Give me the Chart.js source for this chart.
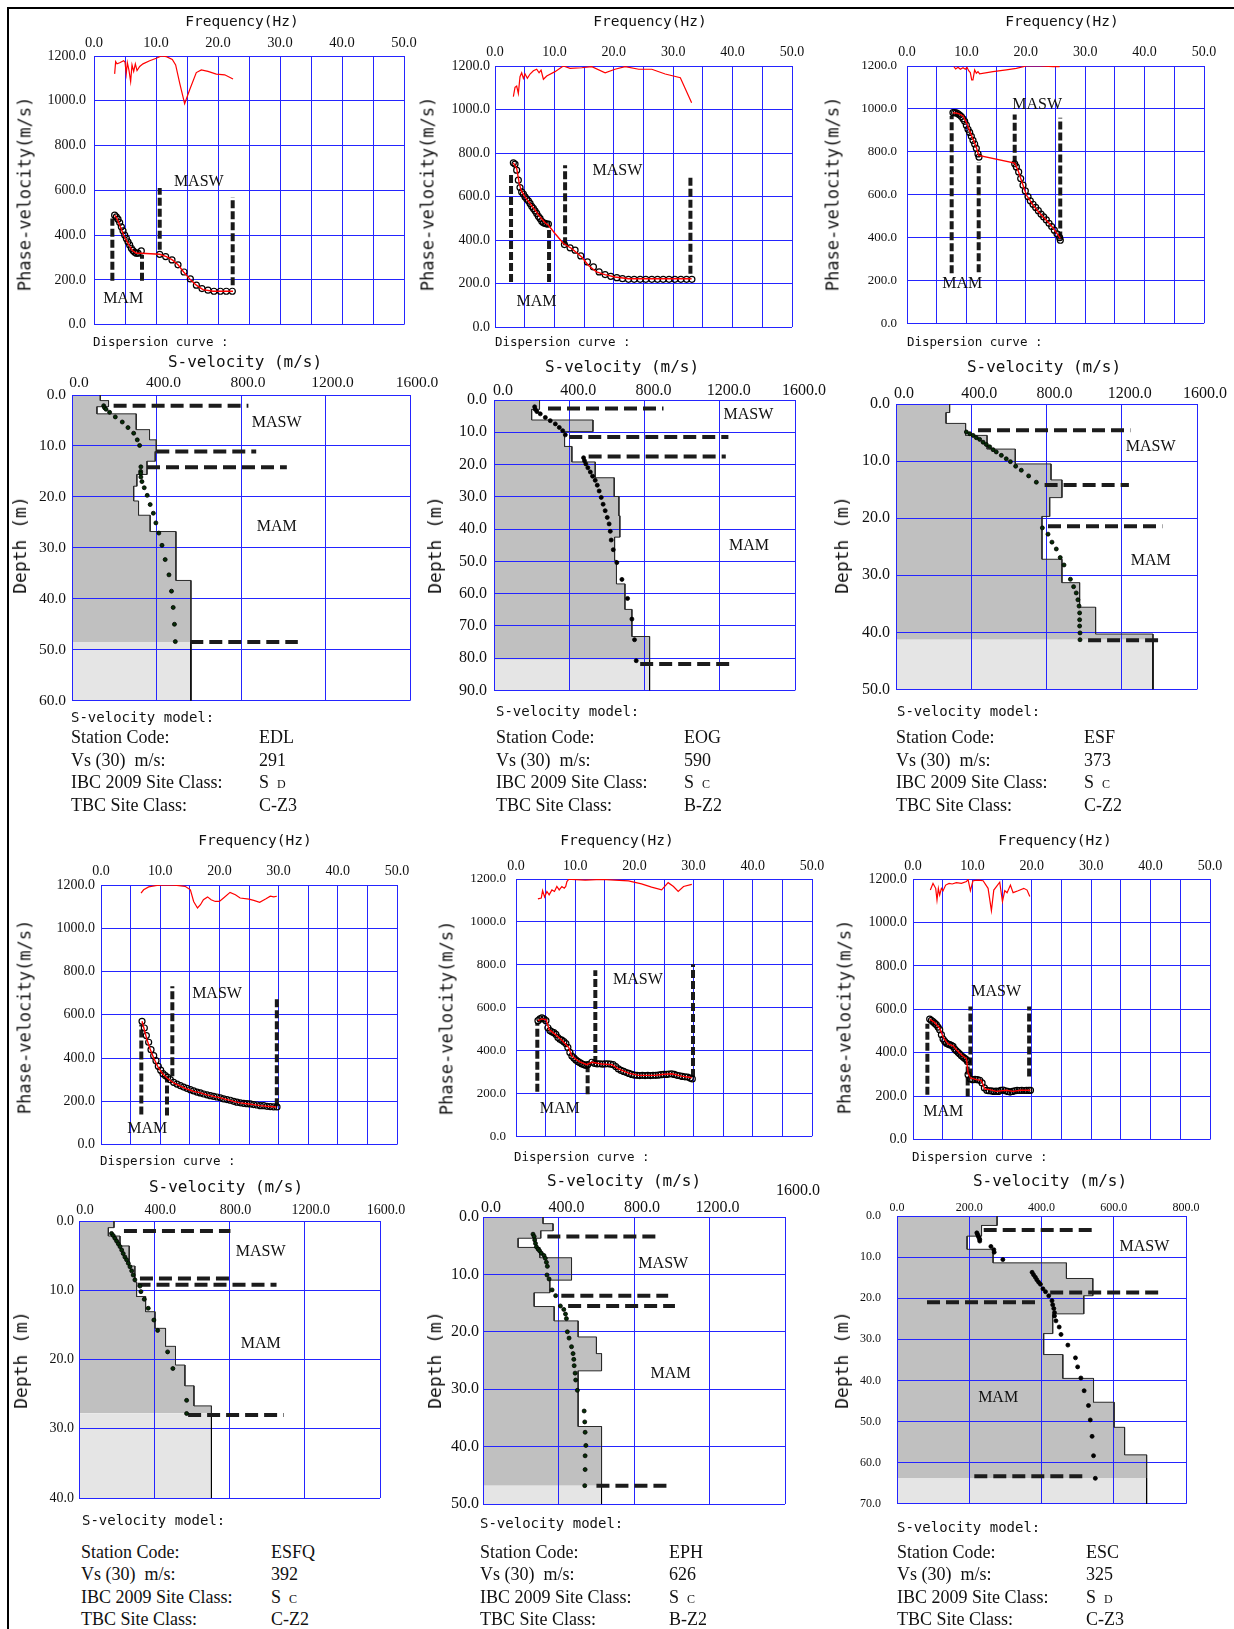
<!DOCTYPE html>
<html>
<head>
<meta charset="utf-8">
<title>Dispersion curves and S-velocity models</title>
<script src="https://cdn.jsdelivr.net/npm/chart.js@4.4.1/dist/chart.umd.min.js"></script>
<style>
  body { margin: 0; background: #fff; }
  #page { position: relative; width: 1234px; height: 1629px; overflow: hidden; background: #fff; }
  #page canvas { position: absolute; }
  .txt { position: absolute; white-space: pre; line-height: 1; color: #111; }
  .mono { font-family: "DejaVu Sans Mono", monospace; }
  .serif { font-family: "Liberation Serif", "Times New Roman", serif; }
  .frame { position: absolute; background: #000; }
</style>
</head>
<body>
<div id="page">
  <div class="frame" style="left:7px;top:7px;width:1.5px;height:1622px"></div>
  <div class="frame" style="left:7px;top:7px;width:1227px;height:1.5px"></div>
</div>
<script>
// ----- station summary ----- //
const STATION_CODES = ["EDL", "EOG", "ESF", "ESFQ", "EPH", "ESC"];
const VS30 = [291, 590, 373, 392, 626, 325];
const IBC_CLASS = ["D", "C", "C", "C", "C", "D"];
const TBC_CLASS = ["C-Z3", "B-Z2", "C-Z2", "C-Z2", "B-Z2", "C-Z3"];

// ----- dispersion curves: [frequency Hz, phase velocity m/s] ----- //
const edlTopCurve = [[3.33,1120],[3.49,1175],[3.71,1165],[4.14,1170],[4.78,1179],[5.0,1173],[5.2,1120],[5.38,1170],[5.65,1135],[5.91,1086],[6.13,1160],[6.4,1131],[6.67,1165],[6.94,1135],[7.37,1153],[7.9,1165],[8.98,1179],[10.05,1190],[10.86,1200],[11.67,1197],[12.63,1185],[13.17,1160],[13.82,1079],[14.62,987],[15.43,1049],[16.5,1126],[17.31,1138],[18.39,1131],[19.73,1119],[21.08,1116],[22.42,1097]];
const edlFitCurve = [[3.33,489],[3.71,474],[4.25,437],[4.78,400],[5.48,363],[6.18,331],[6.83,319],[7.63,319],[10.6,314],[11.67,304],[12.63,289],[13.55,267],[14.46,235],[15.54,201],[16.5,176],[17.58,156],[19.19,149],[22.42,149]];
const edlPicks = [[3.33,489],[3.6,481],[3.87,471],[4.14,456],[4.41,437],[4.68,419],[4.95,400],[5.22,385],[5.48,370],[5.75,356],[6.02,341],[6.29,331],[6.56,323],[6.83,319],[7.1,319],[7.63,329],[10.59,314],[11.56,304],[12.58,289],[13.55,267],[14.52,235],[15.54,204],[16.51,176],[17.42,161],[18.39,154],[19.35,149],[20.38,149],[21.34,149],[22.31,149]];
const edlRanges = [[2.96,196,474],[7.74,196,311],[10.6,334,610],[22.37,176,570]];

const eogTopCurve = [[3.09,1059],[3.37,1102],[3.65,1108],[3.93,1074],[4.21,1151],[4.49,1169],[4.78,1143],[5.06,1163],[5.45,1143],[5.9,1163],[6.46,1178],[7.02,1185],[7.42,1169],[7.75,1181],[8.15,1139],[8.71,1154],[10.1,1174],[11.5,1200],[12.64,1189],[14.6,1192],[16.3,1197],[18.54,1169],[20.2,1185],[21.9,1197],[24.2,1185],[26.4,1185],[28.65,1163],[31.2,1146],[33.1,1031]];
const eogFitCurve = [[3.09,755],[3.65,729],[4.04,667],[4.38,629],[5.06,598],[5.9,568],[6.74,537],[7.58,506],[8.43,479],[8.99,468],[10.1,430],[11.52,384],[12.9,361],[14.6,322],[15.7,284],[17.1,253],[18.5,241],[20.2,230],[22.5,222],[25.8,222],[33.1,222]];
const eogPicks = [[3.09,755],[3.37,749],[3.65,721],[3.93,675],[4.21,641],[4.49,621],[4.78,611],[5.06,598],[5.34,588],[5.62,580],[5.9,568],[6.18,555],[6.46,545],[6.74,534],[7.02,522],[7.3,509],[7.58,499],[7.87,486],[8.15,479],[8.43,476],[8.71,473],[8.99,473],[11.69,379],[12.64,364],[13.48,353],[14.44,327],[15.56,299],[16.57,276],[17.53,253],[18.54,241],[19.49,233],[20.51,227],[21.46,222],[22.47,219],[23.43,219],[24.44,219],[25.39,219],[26.4,219],[27.36,219],[28.31,219],[29.3,219],[30.28,219],[31.29,219],[32.25,219],[33.15,219]];
const eogRanges = [[2.7,207,706],[9.1,207,468],[11.8,376,744],[32.9,245,698]];

const esfTopCurve = [[7.91,1197],[8.19,1186],[8.59,1194],[8.98,1185],[9.43,1192],[9.82,1185],[10.1,1194],[10.38,1178],[10.66,1169],[10.89,1135],[11.1,1135],[11.39,1182],[11.67,1166],[11.95,1174],[12.23,1163],[14.48,1174],[16.72,1182],[18.4,1189],[20.1,1200],[22.3,1200],[24.6,1197],[25.7,1197]];
const esfFitCurve = [[7.74,982],[8.59,979],[9.43,967],[10.0,936],[10.55,898],[11.1,859],[11.67,821],[12.07,783],[18.13,747],[18.69,714],[19.25,667],[20.1,598],[21.2,552],[22.3,514],[23.5,479],[24.6,445],[25.8,396]];
const esfPicks = [[7.74,982],[8.02,982],[8.31,981],[8.59,977],[8.87,971],[9.15,964],[9.43,954],[9.71,942],[9.99,924],[10.27,905],[10.55,890],[10.83,872],[11.11,853],[11.39,836],[11.67,816],[11.95,790],[12.12,775],[18.13,744],[18.41,729],[18.8,706],[19.14,675],[19.53,644],[19.92,617],[20.37,591],[20.76,571],[21.21,555],[21.66,540],[22.11,525],[22.56,509],[23.01,496],[23.46,482],[23.91,466],[24.35,451],[24.8,434],[25.25,417],[25.7,399],[25.81,387]];
const esfRanges = [[7.52,233,967],[12.07,238,752],[18.13,744,974],[25.8,391,959]];

const esfqTopCurve = [[6.76,1163],[7.2,1178],[8.05,1191],[9.46,1198],[11.15,1200],[12.8,1198],[14.2,1194],[15.1,1178],[15.65,1124],[16.3,1094],[16.8,1109],[17.3,1132],[18.0,1145],[18.6,1132],[19.3,1124],[20.0,1124],[20.7,1140],[21.8,1166],[22.7,1155],[23.5,1140],[25.0,1135],[25.8,1129],[26.8,1120],[27.8,1135],[28.6,1148],[29.2,1145],[29.7,1148]];
const esfqFitCurve = [[6.93,570],[7.32,531],[7.77,485],[8.33,439],[8.9,400],[9.57,362],[10.3,331],[11.15,308],[12.27,285],[13.4,270],[14.5,257],[15.65,246],[16.8,239],[17.9,230],[19.0,223],[20.2,216],[21.3,208],[22.4,200],[23.5,193],[24.7,189],[25.8,185],[26.9,180],[28.0,177],[29.6,174]];
const esfqPicks = [[6.93,570],[7.32,539],[7.66,504],[8.05,473],[8.45,439],[8.9,411],[9.29,388],[9.68,362],[10.08,344],[10.47,328],[10.87,319],[11.26,311],[11.71,300],[12.27,288],[12.84,280],[13.4,273],[13.96,266],[14.53,260],[15.09,254],[15.65,248],[16.22,243],[16.78,239],[17.34,234],[17.91,230],[18.47,226],[19.03,223],[19.59,220],[20.16,216],[20.72,211],[21.28,208],[21.85,205],[22.41,200],[22.97,196],[23.54,193],[24.1,191],[24.66,189],[25.23,188],[25.79,185],[26.35,183],[26.91,180],[27.48,180],[28.04,177],[28.6,176],[29.17,174],[29.73,174]];
const esfqRanges = [[6.81,139,555],[11.15,134,316],[12.05,316,732],[29.7,177,678]];

const ephTopCurve = [[3.7,1107],[4.27,1111],[4.49,1146],[4.83,1116],[5.22,1142],[5.6,1126],[6.07,1149],[6.5,1142],[6.9,1165],[7.3,1149],[7.75,1165],[8.15,1157],[8.4,1165],[8.6,1188],[8.9,1198],[9.4,1198],[11.7,1195],[14.5,1198],[16.7,1195],[19.0,1191],[21.2,1177],[22.9,1162],[24.6,1149],[25.7,1183],[26.6,1165],[27.4,1142],[28.3,1165],[29.7,1175]];
const ephFitCurve = [[3.7,539],[4.38,547],[5.06,544],[5.6,498],[6.63,475],[7.75,448],[8.9,414],[9.4,375],[10.6,349],[11.97,334],[12.8,345],[14.5,337],[16.2,334],[17.3,314],[19.0,294],[20.7,284],[23.5,284],[24.6,288],[26.3,291],[28.0,280],[29.7,273]];
const ephPicks = [[3.71,539],[4.04,547],[4.38,552],[4.72,547],[5.06,539],[5.39,506],[5.73,493],[6.07,487],[6.4,483],[6.74,475],[7.08,460],[7.42,452],[7.75,448],[8.09,441],[8.43,432],[8.76,414],[9.1,391],[9.44,374],[9.78,365],[10.11,356],[10.45,349],[10.79,343],[11.12,337],[11.46,334],[11.8,330],[12.13,334],[12.81,345],[13.26,340],[13.71,337],[14.16,338],[14.61,336],[15.06,337],[15.51,338],[15.96,336],[16.4,334],[16.85,325],[17.3,314],[17.75,307],[18.2,302],[18.65,297],[19.1,293],[19.55,288],[20.0,285],[20.45,284],[20.9,283],[21.35,284],[21.8,283],[22.25,284],[22.7,283],[23.15,284],[23.6,284],[24.04,285],[24.49,287],[24.94,288],[25.39,288],[25.84,290],[26.29,291],[26.74,288],[27.19,284],[27.64,282],[28.09,279],[28.54,277],[28.99,276],[29.44,271],[29.78,267]];
const ephRanges = [[3.6,207,529],[12.1,196,330],[13.4,337,774],[29.9,276,802]];

const escTopCurve = [[2.92,1149],[3.37,1180],[3.82,1157],[4.04,1103],[4.27,1157],[4.49,1126],[4.78,1157],[5.06,1146],[5.5,1172],[6.07,1180],[6.6,1177],[7.3,1183],[8.15,1180],[9.0,1188],[9.27,1198],[9.66,1146],[10.1,1192],[10.96,1195],[11.8,1192],[12.64,1157],[13.2,1054],[13.6,1149],[14.04,1165],[14.6,1185],[15.06,1096],[15.45,1146],[15.84,1137],[16.4,1172],[16.85,1137],[17.7,1146],[18.65,1157],[19.2,1149],[19.66,1119]];
const escFitCurve = [[2.81,555],[3.65,539],[4.49,513],[5.17,467],[5.9,441],[6.74,432],[7.3,414],[8.15,391],[9.0,372],[9.27,307],[9.66,284],[10.67,276],[11.5,273],[12.08,233],[12.9,230],[14.04,222],[15.7,227],[16.85,222],[18.0,227],[19.8,227]];
const escPicks = [[2.81,555],[3.09,549],[3.37,543],[3.65,536],[3.93,529],[4.21,518],[4.49,506],[4.78,483],[5.06,463],[5.34,452],[5.62,444],[5.9,440],[6.18,437],[6.46,434],[6.74,429],[7.02,417],[7.3,409],[7.58,402],[7.87,394],[8.15,386],[8.43,380],[8.71,374],[8.99,368],[9.16,360],[9.27,299],[9.66,279],[10.06,276],[10.45,277],[10.84,276],[11.24,273],[11.63,261],[12.02,238],[12.42,227],[12.81,225],[13.2,224],[13.6,222],[13.99,223],[14.38,222],[14.78,227],[15.17,228],[15.56,225],[15.96,222],[16.35,219],[16.74,222],[17.13,225],[17.53,227],[17.92,226],[18.31,227],[18.71,226],[19.1,227],[19.49,227],[19.78,227]];
const escRanges = [[2.42,207,533],[9.21,199,360],[9.66,291,613],[19.55,291,613]];

// ----- S-velocity models: layer Vs (m/s), layer base depth (m) ----- //
const edlLayerVs = [134,173,118,304,367,399,394,355,307,292,315,370,492,563];
const edlLayerBase = [1.1,2.3,3.7,6.8,8.8,11.1,13.0,15.6,17.9,20.8,23.6,26.8,36.4,60];
const edlHalfspace = 48.5;
const edlModelDots = [[150,2.1],[154,2.5],[161,2.8],[178,3.4],[205,4.3],[238,5.3],[265,6.4],[292,7.5],[309,8.8],[320,9.9],[326,14.1],[325,15.0],[325,15.4],[326,16.1],[331,17.0],[342,18.2],[356,19.7],[370,21.5],[385,23.2],[397,25.1],[411,27.1],[426,29.5],[441,32.3],[459,35.3],[471,38.5],[479,41.7],[485,45.0],[489,48.4]];
const edlDepthRanges = [[2.1,197,835],[11.1,399,872],[14.2,355,1017],[48.5,560,1069]];

const eogLayerVs = [242,200,526,375,414,538,639,664,669,641,651,696,733,827];
const eogLayerBase = [2.9,6.2,9.8,14.4,19.2,24.1,29.9,35.9,42.5,49.7,57.0,64.9,73.3,90];
const eogHalfspace = 80.5;
const eogModelDots = [[216,2.1],[219,2.9],[228,3.6],[246,4.3],[273,5.4],[299,6.4],[326,7.4],[347,8.5],[365,9.5],[379,10.8],[476,17.9],[481,18.8],[488,19.8],[499,21.0],[512,22.3],[524,23.6],[538,24.9],[549,26.4],[559,28.2],[570,30.2],[580,32.3],[591,34.3],[602,36.4],[612,38.4],[618,40.7],[623,43.4],[634,46.4],[653,50.4],[680,55.6],[710,61.5],[733,67.9],[747,74.3],[756,80.8]];
const eogDepthRanges = [[2.6,287,901],[11.5,400,1246],[17.5,503,1232],[81.8,777,1273]];

const esfLayerVs = [285,266,370,484,634,824,882,817,776,882,976,1061,1366];
const esfLayerBase = [1.5,3.4,5.5,7.9,10.5,13.3,16.4,19.7,27.2,31.3,35.6,40.3,50];
const esfHalfspace = 41.3;
const esfModelDots = [[374,4.9],[392,5.2],[410,5.5],[427,5.9],[445,6.2],[463,6.7],[480,7.1],[498,7.5],[516,8.0],[533,8.4],[560,9.0],[586,9.6],[608,10.1],[636,10.9],[666,11.6],[705,12.6],[746,13.7],[778,21.7],[808,22.8],[829,24.2],[852,25.4],[873,26.9],[893,28.2],[927,30.7],[944,32.0],[958,33.1],[967,34.3],[973,35.4],[976,36.6],[976,37.8],[976,38.9],[978,40.1],[978,41.3]];
const esfDepthRanges = [[4.6,436,1246],[14.2,790,1238],[21.4,808,1416],[41.4,1021,1419]];

const esfqLayerVs = [186,156,218,267,297,306,354,404,460,513,563,611,704];
const esfqLayerBase = [0.96,2.17,3.6,6.5,8.8,10.9,13.1,15.5,18.1,20.8,23.8,26.7,40];
const esfqHalfspace = 27.8;
const esfqModelDots = [[173,1.8],[182,2.1],[191,2.5],[200,2.9],[209,3.3],[218,3.7],[227,4.2],[235,4.7],[244,5.2],[253,5.6],[262,6.1],[271,6.6],[280,7.2],[288,7.8],[297,8.5],[324,9.4],[329,10.2],[347,11.3],[368,12.6],[398,14.3],[418,15.8],[471,18.9],[499,21.3],[572,25.9],[572,27.8]];
const esfqDepthRanges = [[1.44,239,805],[8.3,324,828],[9.2,311,1050],[28.0,580,1088]];

const ephLayerVs = [318,371,306,186,301,469,354,271,377,504,601,628,504,628];
const ephLayerBase = [1.16,2.4,3.7,5.3,7.1,11.0,13.2,15.6,18.1,20.9,23.8,26.8,36.5,50];
const ephHalfspace = 46.8;
const ephModelDots = [[265,3.0],[271,3.4],[274,4.0],[278,4.6],[283,5.2],[292,5.6],[300,5.9],[309,6.3],[323,6.7],[330,7.2],[336,7.9],[341,8.6],[339,10.1],[350,10.8],[366,12.7],[385,13.7],[410,15.5],[428,16.1],[437,16.9],[442,17.7],[447,20.0],[456,21.1],[469,22.6],[477,23.8],[481,24.8],[483,25.9],[488,27.2],[491,28.4],[500,30.2],[536,33.8],[539,35.7],[541,37.5],[545,39.8],[541,41.6],[541,44.0],[539,46.8]];
const ephDepthRanges = [[3.4,341,932],[13.7,415,981],[15.5,451,1017],[46.8,601,999]];

const escLayerVs = [277,234,194,266,469,542,517,431,406,459,544,601,630,691];
const escLayerBase = [2.3,4.9,8.1,11.4,15.2,19.4,23.8,28.6,33.7,39.5,45.3,51.4,58.1,70];
const escHalfspace = 63.7;
const escModelDots = [[221,4.1],[223,4.5],[225,4.9],[227,5.3],[229,5.7],[229,6.1],[260,7.4],[268,8.2],[269,8.8],[293,10.6],[374,13.7],[378,14.3],[383,14.9],[387,15.5],[392,16.1],[397,16.6],[404,17.7],[411,18.4],[420,19.4],[429,20.6],[431,21.6],[434,22.5],[436,23.5],[436,24.3],[440,25.5],[449,27.0],[454,28.8],[473,31.4],[494,34.5],[500,36.7],[509,39.4],[518,42.5],[530,46.1],[535,49.6],[540,53.6],[544,58.3],[549,63.8]];
const escDepthRanges = [[3.4,240,553],[18.6,424,733],[21.0,83,394],[63.3,214,526]];

const DISP_SETS = [
  [edlTopCurve, edlFitCurve, edlPicks, edlRanges],
  [eogTopCurve, eogFitCurve, eogPicks, eogRanges],
  [esfTopCurve, esfFitCurve, esfPicks, esfRanges],
  [esfqTopCurve, esfqFitCurve, esfqPicks, esfqRanges],
  [ephTopCurve, ephFitCurve, ephPicks, ephRanges],
  [escTopCurve, escFitCurve, escPicks, escRanges],
];
const VEL_SETS = [
  [edlLayerVs, edlLayerBase, edlHalfspace, edlModelDots, edlDepthRanges],
  [eogLayerVs, eogLayerBase, eogHalfspace, eogModelDots, eogDepthRanges],
  [esfLayerVs, esfLayerBase, esfHalfspace, esfModelDots, esfDepthRanges],
  [esfqLayerVs, esfqLayerBase, esfqHalfspace, esfqModelDots, esfqDepthRanges],
  [ephLayerVs, ephLayerBase, ephHalfspace, ephModelDots, ephDepthRanges],
  [escLayerVs, escLayerBase, escHalfspace, escModelDots, escDepthRanges],
];

// ----- layout (pixel boxes of each plot area) ----- //
const DISP_LAYOUT = [
  {rect: [94, 56, 404, 327], xFont: 14.5, xPad: 4, yFont: 14, yPad: 8, title: [242, 21], ylab: [25, 194], caption: [93, 342], marks: [["MASW", 16.9, 639], ["MAM", 4.7, 115]]},
  {rect: [495, 66, 792, 327], xFont: 14, xPad: 5, yFont: 14, yPad: 5, title: [650, 21], ylab: [428, 194], caption: [495, 342], marks: [["MASW", 20.6, 718], ["MAM", 7.0, 118]]},
  {rect: [907, 66, 1204, 327], xFont: 14, xPad: 5, yFont: 13, yPad: 10, title: [1062, 21], ylab: [833, 194], caption: [907, 342], marks: [["MASW", 21.9, 1020], ["MAM", 9.3, 184]]},
  {rect: [101, 885, 397, 1145], xFont: 14, xPad: 5, yFont: 14, yPad: 6, title: [255, 840], ylab: [25, 1017], caption: [100, 1161], marks: [["MASW", 19.6, 698], ["MAM", 7.8, 72]]},
  {rect: [516, 879, 812, 1140], xFont: 14, xPad: 4, yFont: 13, yPad: 10, title: [617, 840], ylab: [447, 1018], caption: [514, 1157], marks: [["MASW", 20.6, 731], ["MAM", 7.4, 127]]},
  {rect: [913, 879, 1210, 1140], xFont: 14, xPad: 4, yFont: 14, yPad: 6, title: [1055, 840], ylab: [845, 1017], caption: [912, 1157], marks: [["MASW", 14.0, 679], ["MAM", 5.1, 127]]},
];
const ROWS_TOP = [737, 760, 782, 805];
const ROWS_BOTTOM = [1552, 1574, 1597, 1619];
const VEL_LAYOUT = [
  {rect: [72, 395, 410, 702], vmax: 1600, vstep: 400, xFont: 15.5, xPad: 3, yFont: 15.5, yPad: 6, offset: 7, dot: "#072e07", title: [245, 362], ylab: [20, 545], model: [71, 717], rows: ROWS_TOP, labelX: 71, valueX: 259, marks: [["MASW", 969, 5.4], ["MAM", 969, 25.9]]},
  {rect: [494, 400, 795, 693], vmax: 1600, vstep: 400, xFont: 16, xPad: 0, yFont: 16, yPad: 7, offset: 9, dot: "#000", title: [622, 367], ylab: [435, 545], model: [496, 711], rows: ROWS_TOP, labelX: 496, valueX: 684, marks: [["MASW", 1352, 4.6], ["MAM", 1356, 45.1]]},
  {rect: [896, 404, 1197, 691], vmax: 1600, vstep: 400, xFont: 16, xPad: 1, yFont: 16, yPad: 6, offset: 8, dot: "#072e07", title: [1044, 367], ylab: [842, 545], model: [897, 711], rows: ROWS_TOP, labelX: 896, valueX: 1084, marks: [["MASW", 1354, 7.5], ["MAM", 1354, 27.4]]},
  {rect: [79, 1221, 380, 1498], vmax: 1600, vstep: 400, xFont: 14, xPad: 2, yFont: 14, yPad: 5, offset: 6, dot: "#072e07", title: [226, 1187], ylab: [21, 1360], model: [82, 1520], rows: ROWS_BOTTOM, labelX: 81, valueX: 271, marks: [["MASW", 966, 4.5], ["MAM", 966, 17.8]]},
  {rect: [483, 1217, 785, 1504], vmax: 1600, vstep: 400, xFont: 16, xPad: 0, yFont: 16, yPad: 4, offset: 8, dot: "#072e07", title: [624, 1181], ylab: [435, 1360], model: [480, 1523], rows: ROWS_BOTTOM, labelX: 480, valueX: 669, hideLast: true, lone: [798, 1190], marks: [["MASW", 955, 8.2], ["MAM", 994, 27.3]]},
  {rect: [897, 1216, 1186, 1513], vmax: 800, vstep: 200, xFont: 12, xPad: 1, yFont: 12, yPad: 16, offset: 0, dot: "#000", title: [1050, 1181], ylab: [842, 1360], model: [897, 1527], rows: ROWS_BOTTOM, labelX: 897, valueX: 1086, marks: [["MASW", 685, 7.6], ["MAM", 280, 44.3]]},
];

const SERIF = '"Liberation Serif", "Times New Roman", serif';
const BLUE = "#2424ff";
const ML = 70, MT = 40, MR = 40, MB = 14;
const page = document.getElementById("page");

function xy(pairs) {
  return pairs.map(([x, y]) => ({x: x, y: y}));
}

// staircase outline of the layered model, cut to [from, to] metres
function stepPoints(vs, bases, from, to) {
  let pts = [];
  let top = 0;
  vs.forEach((v, i) => {
    let a = Math.max(top, from);
    let b = Math.min(bases[i], to);
    if (b > a) pts.push({x: v, y: a}, {x: v, y: b});
    top = bases[i];
  });
  return pts;
}

function makeCanvas(rect) {
  const [l, t, r, b] = rect;
  const c = document.createElement("canvas");
  c.width = r - l + ML + MR;
  c.height = b - t + MT + MB;
  c.style.left = (l - ML) + "px";
  c.style.top = (t - MT) + "px";
  page.appendChild(c);
  return c;
}

function makeAxis(position, min, max, step, font, pad, offset, reverse, fmt) {
  return {
    type: "linear",
    position: position,
    min: min,
    max: max,
    reverse: reverse,
    ticks: {
      stepSize: step, autoSkip: false, maxRotation: 0, minRotation: 0,
      padding: pad, labelOffset: offset, color: "#111",
      font: {family: SERIF, size: font},
      callback: fmt,
    },
    grid: {color: BLUE, lineWidth: 1, drawTicks: false},
    border: {color: BLUE, width: 1},
    afterFit: (scale) => {
      if (position === "top") scale.height = MT;
      else scale.width = ML;
    },
  };
}

function textPlugin(items) {
  return {
    id: "plotText",
    afterDatasetsDraw(chart) {
      const {ctx, scales} = chart;
      ctx.save();
      ctx.font = "16px " + SERIF;
      ctx.fillStyle = "#111";
      ctx.textAlign = "center";
      ctx.textBaseline = "middle";
      items.forEach(([text, x, y]) => {
        ctx.fillText(text, scales.x.getPixelForValue(x), scales.y.getPixelForValue(y));
      });
      ctx.restore();
    },
  };
}

function baseOptions() {
  return {
    responsive: false,
    animation: false,
    devicePixelRatio: 1,
    layout: {padding: {left: 0, top: 0, right: MR, bottom: MB}},
    elements: {line: {tension: 0}},
    plugins: {legend: {display: false}, tooltip: {enabled: false}, filler: {drawTime: "beforeDraw"}},
  };
}

function addText(html, x, y, cls, size, anchor) {
  const el = document.createElement("div");
  el.className = "txt " + cls;
  el.style.left = x + "px";
  el.style.top = y + "px";
  el.style.fontSize = size + "px";
  if (anchor === "center") el.style.transform = "translate(-50%,-50%)";
  else if (anchor === "rot") el.style.transform = "translate(-50%,-50%) rotate(-90deg)";
  else el.style.transform = "translateY(-50%)";
  el.innerHTML = html;
  page.appendChild(el);
}

// ----- dispersion curve panels ----- //
function dispersionChart(i) {
  const L = DISP_LAYOUT[i];
  const [topCurve, fitCurve, picks, ranges] = DISP_SETS[i];
  let datasets = [
    {data: xy(fitCurve), borderColor: "#ff0000", borderWidth: 1.4, pointRadius: 0},
    {data: xy(picks), showLine: false, pointRadius: 3, pointBorderWidth: 1.2, pointBorderColor: "#000", pointBackgroundColor: "rgba(255,255,255,0)"},
  ];
  ranges.forEach(([f, lo, hi]) => {
    datasets.push({data: [{x: f, y: lo}, {x: f, y: hi}], borderColor: "#1a1a1a", borderWidth: 4, borderDash: [8, 3], pointRadius: 0});
  });
  datasets.push({data: xy(topCurve), borderColor: "#ff0000", borderWidth: 1.2, pointRadius: 0});

  let options = baseOptions();
  options.scales = {
    x: makeAxis("top", 0, 50, 5, L.xFont, L.xPad, 0, false, (v) => (v % 10 === 0 ? v.toFixed(1) : "")),
    y: makeAxis("left", 0, 1200, 200, L.yFont, L.yPad, 0, false, (v) => v.toFixed(1)),
  };
  new Chart(makeCanvas(L.rect), {type: "line", data: {datasets: datasets}, options: options, plugins: [textPlugin(L.marks)]});

  addText("Frequency(Hz)", L.title[0], L.title[1], "mono", 14.5, "center");
  addText("Phase-velocity(m/s)", L.ylab[0], L.ylab[1], "mono", 17, "rot");
  addText("Dispersion curve :", L.caption[0], L.caption[1], "mono", 12.5, "left");
}

// ----- S-velocity model panels ----- //
function velocityChart(i) {
  const L = VEL_LAYOUT[i];
  const [vs, bases, half, dots, ranges] = VEL_SETS[i];
  const dmax = bases[bases.length - 1];
  let datasets = [
    {data: xy(dots), showLine: false, pointRadius: 2, pointBorderWidth: 0.8, pointBorderColor: "#000", pointBackgroundColor: L.dot},
  ];
  ranges.forEach(([d, v1, v2]) => {
    datasets.push({data: [{x: v1, y: d}, {x: v2, y: d}], borderColor: "#1c1c1c", borderWidth: 4, borderDash: [13, 6], pointRadius: 0});
  });
  datasets.push({data: stepPoints(vs, bases, 0, half), borderColor: "#2a2a2a", borderWidth: 1, pointRadius: 0, fill: "origin", backgroundColor: "#c0c0c0"});
  datasets.push({data: stepPoints(vs, bases, half, dmax), borderColor: "#000", borderWidth: 1, pointRadius: 0, fill: "origin", backgroundColor: "#e5e5e5"});

  let options = baseOptions();
  options.indexAxis = "y";
  options.scales = {
    x: makeAxis("top", 0, L.vmax, L.vstep, L.xFont, L.xPad, L.offset, false,
      (v) => (L.hideLast && v === L.vmax ? "" : v.toFixed(1))),
    y: makeAxis("left", 0, dmax, 10, L.yFont, L.yPad, 0, true, (v) => v.toFixed(1)),
  };
  new Chart(makeCanvas(L.rect), {type: "line", data: {datasets: datasets}, options: options, plugins: [textPlugin(L.marks)]});

  addText("S-velocity (m/s)", L.title[0], L.title[1], "mono", 16, "center");
  addText("Depth (m)", L.ylab[0], L.ylab[1], "mono", 18, "rot");
  addText("S-velocity model:", L.model[0], L.model[1], "mono", 14, "left");
  if (L.lone) addText(L.vmax.toFixed(1), L.lone[0], L.lone[1], "serif", 16, "center");

  const labels = ["Station Code:", "Vs (30)  m/s:", "IBC 2009 Site Class:", "TBC Site Class:"];
  const values = [
    STATION_CODES[i],
    String(VS30[i]),
    'S<span style="font-size:12px;margin-left:8px">' + IBC_CLASS[i] + "</span>",
    TBC_CLASS[i],
  ];
  labels.forEach((lab, k) => {
    addText(lab, L.labelX, L.rows[k], "serif", 18, "left");
    addText(values[k], L.valueX, L.rows[k], "serif", 18, "left");
  });
}

for (let i = 0; i < 6; i++) {
  dispersionChart(i);
  velocityChart(i);
}
</script>
</body>
</html>
